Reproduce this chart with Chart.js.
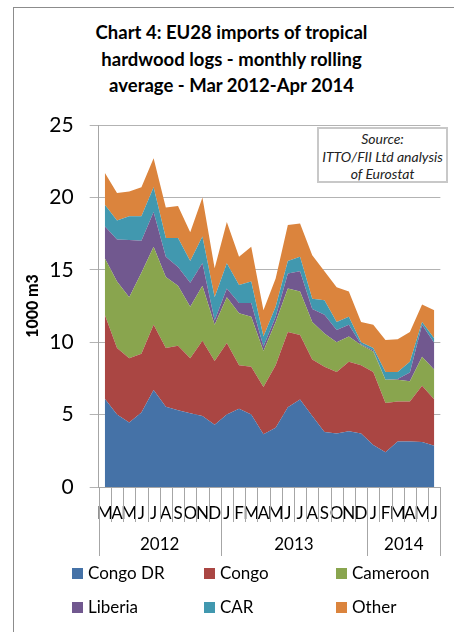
<!DOCTYPE html>
<html lang="en">
<head>
  <meta charset="UTF-8">
  <title>Chart 4: EU28 imports of tropical hardwood logs</title>
  <script src="https://cdn.jsdelivr.net/npm/chart.js"></script>
  <style>
    body { margin: 0; background: #fff; font-family: Lato, 'Open Sans', sans-serif; color: #000; }
    #wrap { position: relative; width: 454px; height: 632px; overflow: hidden; }
    #frame {
      position: absolute; left: 13px; top: 7px; width: 480px; height: 700px;
      border: 1.5px solid #8c8c8c;
    }
    h1 {
      position: absolute; left: 13px; top: 19px; width: 437px; margin: 0;
      text-align: center; font-size: 18.5px; line-height: 26.5px; font-weight: bold;
    }
    canvas { position: absolute; left: 0; top: 0; }
    #source {
      position: absolute; left: 317px; top: 127px; width: 127px; height: 51px;
      border: 2px solid #c8c8c8; background: #fff;
      font-style: italic; font-size: 14px; line-height: 17.5px; text-align: center;
      color: #222; padding-top: 1px;
    }
    .legend { position: absolute; font-size: 17px; line-height: 20px; }
    .legend span { display: inline-block; width: 11px; height: 11px; margin-right: 5px; vertical-align: 0px; }
  </style>
</head>
<body>
  <div id="wrap">
    <div id="frame"></div>
    <h1>Chart 4: EU28 imports of tropical<br>hardwood logs - monthly rolling<br>average - Mar 2012-Apr 2014</h1>
    <canvas id="chart" width="454" height="632"></canvas>
    <div id="source">Source:<br>ITTO/FII Ltd analysis<br>of Eurostat</div>
    <div id="legend"></div>
  </div>

  <script>
    // Mar 2012 - Jun 2014, 1000 m3, monthly rolling average
    const months = ['M','A','M','J','J','A','S','O','N','D',
                    'J','F','M','A','M','J','J','A','S','O','N','D',
                    'J','F','M','A','M','J'];
    const years = ['2012', '2013', '2014'];
    const monthsInYear = [10, 12, 6];

    const congoDR  = [6.1,5.0,4.45,5.15,6.7,5.55,5.3,5.1,4.9,4.3,5.0,5.4,5.0,3.65,4.1,5.5,6.05,4.9,3.8,3.7,3.85,3.7,2.9,2.4,3.15,3.15,3.1,2.85];
    const congo    = [5.8,4.6,4.45,4.05,4.5,4.05,4.45,3.8,5.2,4.4,4.95,3.0,3.3,3.25,4.3,5.2,4.45,3.9,4.5,4.25,4.8,4.7,5.05,3.4,2.75,2.75,3.9,3.2];
    const cameroon = [3.9,4.6,4.2,5.6,5.4,4.9,4.15,3.55,3.8,2.5,3.15,3.6,3.45,2.5,3.0,3.0,3.0,2.6,2.3,2.05,1.75,1.4,1.4,1.6,1.5,1.4,2.0,2.05];
    const liberia  = [2.2,2.9,3.95,2.2,2.4,1.4,1.3,1.65,1.55,0.3,0.6,0.7,0.95,0.3,0.35,1.05,1.4,0.9,1.3,0.85,0.8,0.05,0.1,0.0,0.05,0.6,2.2,1.85];
    const car      = [1.5,1.3,1.65,1.7,1.7,1.3,2.0,1.5,1.85,1.6,1.75,1.25,1.5,0.7,0.7,0.85,1.0,0.7,1.0,0.55,0.55,0.15,0.15,0.55,0.5,0.75,0.2,0.3];
    const other    = [2.2,1.9,1.7,2.0,2.0,2.1,2.2,2.0,2.7,2.0,2.85,1.95,2.4,1.8,1.95,2.5,2.3,3.0,2.0,2.4,1.75,1.4,1.6,2.2,2.25,2.05,1.2,1.95];

    const seriesNames = ['Congo DR', 'Congo', 'Cameroon', 'Liberia', 'CAR', 'Other'];
    const seriesData = [congoDR, congo, cameroon, liberia, car, other];
    const colors = ['#4572a7', '#aa4643', '#89a54e', '#71588f', '#4198af', '#db843d'];

    const datasets = seriesNames.map((name, i) => ({
      label: name,
      data: seriesData[i],
      backgroundColor: colors[i],
      borderColor: colors[i],
      borderWidth: 0,
      pointRadius: 0,
      tension: 0,
      fill: i === 0 ? 'origin' : '-1'
    }));

    // year row under the month labels, with divider lines
    const yearAxis = {
      id: 'yearAxis',
      afterDraw(chart) {
        const x = chart.scales.x, ctx = chart.ctx;
        const bottom = chart.chartArea.bottom;
        const half = (x.getPixelForValue(1) - x.getPixelForValue(0)) / 2;
        const edges = [0];
        monthsInYear.forEach(n => edges.push(edges[edges.length - 1] + n));
        ctx.save();
        ctx.strokeStyle = '#a6a6a6';
        ctx.lineWidth = 1;
        for (let i = 0; i <= months.length; i++) {
          const px = Math.round(x.getPixelForValue(i) - half) + 0.5;
          const len = edges.includes(i) ? 69 : 35;
          ctx.beginPath();
          ctx.moveTo(px, bottom);
          ctx.lineTo(px, bottom + len);
          ctx.stroke();
        }
        ctx.fillStyle = '#000';
        ctx.font = '17px Lato';
        ctx.textAlign = 'center';
        ctx.textBaseline = 'middle';
        years.forEach((y, k) => {
          const a = x.getPixelForValue(edges[k]) - half;
          const b = x.getPixelForValue(edges[k + 1]) - half;
          ctx.fillText(y, (a + b) / 2, bottom + 58);
        });
        ctx.restore();
      }
    };

    new Chart(document.getElementById('chart'), {
      type: 'line',
      data: { labels: months, datasets: datasets },
      plugins: [yearAxis],
      options: {
        responsive: false,
        animation: false,
        devicePixelRatio: 1,
        layout: { padding: { top: 125, right: 7.3, bottom: 65, left: 0 } },
        plugins: { legend: { display: false }, tooltip: { enabled: false } },
        scales: {
          x: {
            offset: true,
            grid: { display: false, drawTicks: false },
            border: { color: '#a6a6a6' },
            ticks: {
              autoSkip: false, maxRotation: 0, minRotation: 0, padding: 16,
              color: '#000', font: { family: 'Lato', size: 17 }
            },
            afterFit: s => { s.height = 80; }
          },
          y: {
            stacked: true,
            min: 0, max: 25,
            ticks: { stepSize: 5, padding: 16, color: '#000', font: { family: 'Lato', size: 21 } },
            grid: { color: '#b3b3b3', tickLength: 9 },
            border: { color: '#a6a6a6' },
            title: {
              display: true, text: '1000 m3', color: '#000',
              font: { family: 'Lato', size: 16, weight: '900' },
              padding: { top: 23 }
            },
            afterFit: s => { s.width = 98.7; }
          }
        }
      }
    });

    // legend in three columns, two rows
    const legend = document.getElementById('legend');
    const cols = [72, 204, 336], rows = [563, 597];
    seriesNames.forEach((name, i) => {
      const d = document.createElement('div');
      d.className = 'legend';
      d.style.left = cols[i % 3] + 'px';
      d.style.top = rows[Math.floor(i / 3)] + 'px';
      d.innerHTML = '<span style="background:' + colors[i] + '"></span>' + name;
      legend.appendChild(d);
    });
  </script>
</body>
</html>
